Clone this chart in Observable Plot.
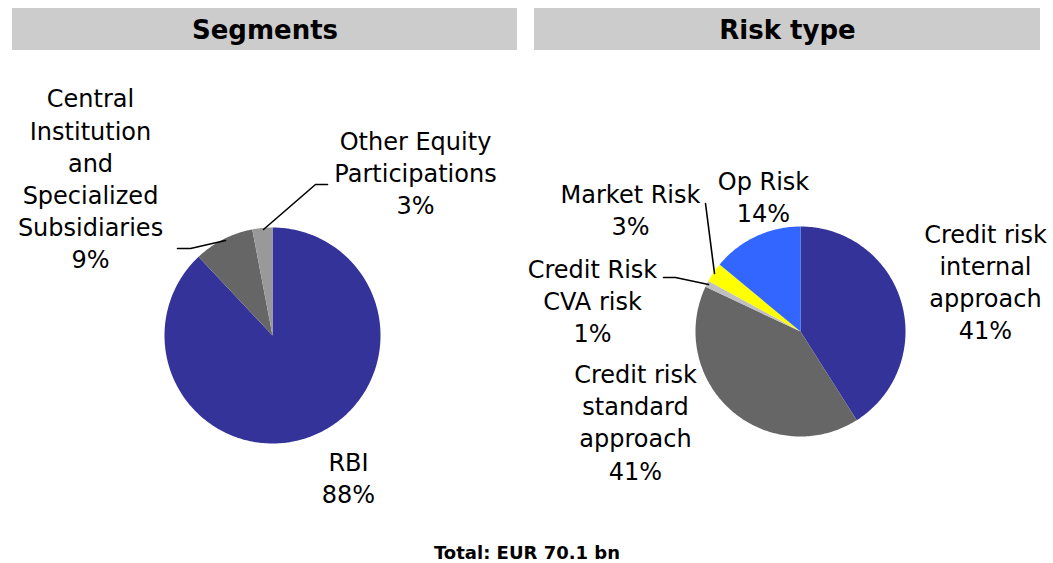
<!DOCTYPE html>
<html>
<head>
<meta charset="utf-8">
<script src="https://cdn.jsdelivr.net/npm/d3@7"></script>
<script src="https://cdn.jsdelivr.net/npm/@observablehq/plot@0.6"></script>
<style>
  html, body { margin: 0; padding: 0; background: #fff; }
  #chart svg { display: block; }
</style>
</head>
<body>
<div id="chart"></div>
<script>
// ---------- data ----------
const panelTitles = ["Segments", "Risk type"];

const segmentNames  = ["RBI", "Central Institution and Specialized Subsidiaries", "Other Equity Participations"];
const segmentValues = [88, 9, 3];
const segmentLabels = ["RBI\n88%", "Central\nInstitution\nand\nSpecialized\nSubsidiaries\n9%", "Other Equity\nParticipations\n3%"];

const riskNames  = ["Credit risk internal approach", "Credit risk standard approach", "Credit Risk CVA risk", "Market Risk", "Op Risk"];
const riskValues = [41, 41, 1, 3, 14];
const riskLabels = ["Credit risk\ninternal\napproach\n41%", "Credit risk\nstandard\napproach\n41%", "Credit Risk\nCVA risk\n1%", "Market Risk\n3%", "Op Risk\n14%"];

const totalText = "Total: EUR 70.1 bn";

// ---------- styles / layout ----------
const segmentColors = ["#333399", "#666666", "#999999"];
const riskColors = ["#333399", "#666666", "#c0c0c0", "#ffff00", "#3366ff"];

const W = 1053, H = 563;
const pies = [
  {cx: 272, cy: 335, r: 108, names: segmentNames, values: segmentValues, colors: segmentColors,
   labelPos: [[348, 476.5], [90, 177], [415, 171.5]],
   leaders: [null, [[177, 248], [190, 248], [225, 240]], [[327, 184], [315, 184], [263, 229]]]},
  {cx: 800, cy: 331, r: 105, names: riskNames, values: riskValues, colors: riskColors,
   labelPos: [[985, 280], [635, 420.5], [592, 299.5], [630, 208.5], [763, 195.5]],
   leaders: [null, null, [[663, 277], [675, 277], [708, 284]], [[705, 203], [714, 273]], null]}
];
const pieLabels = [segmentLabels, riskLabels];

// slices computed via d3.pie from the values (clockwise from 12 o'clock)
const slicePts = [];
const labelRows = [];
const leaderPts = [];
pies.forEach((p, pi) => {
  const arcs = d3.pie().sort(null).value(d => d)(p.values);
  arcs.forEach((a, i) => {
    const id = pi + "-" + i;
    slicePts.push({id, x: p.cx, y: p.cy, color: p.colors[i]});
    const n = Math.max(2, Math.ceil((a.endAngle - a.startAngle) / (Math.PI / 180)));
    for (let k = 0; k <= n; k++) {
      const t = a.startAngle + (a.endAngle - a.startAngle) * k / n;
      slicePts.push({id, x: p.cx + p.r * Math.sin(t), y: p.cy - p.r * Math.cos(t), color: p.colors[i]});
    }
    slicePts.push({id, x: p.cx, y: p.cy, color: p.colors[i]});
    labelRows.push({text: pieLabels[pi][i], x: p.labelPos[i][0], y: p.labelPos[i][1]});
    if (p.leaders[i]) p.leaders[i].forEach(([x, y]) => leaderPts.push({id, x, y}));
  });
});

const headerBoxes = [
  {title: panelTitles[0], x1: 12, x2: 517, y1: 8, y2: 50},
  {title: panelTitles[1], x1: 534, x2: 1040, y1: 8, y2: 50}
];

const chart = Plot.plot({
  width: W, height: H,
  margin: 0,
  x: {domain: [0, W], range: [0, W], axis: null},
  y: {domain: [0, H], range: [0, H], axis: null},
  color: {type: "identity"},
  style: {fontFamily: "'Century Gothic', 'DejaVu Sans', sans-serif", background: "#fff"},
  marks: [
    Plot.rect(headerBoxes, {x1: "x1", x2: "x2", y1: "y1", y2: "y2", fill: "#cccccc"}),
    Plot.text(headerBoxes, {x: d => (d.x1 + d.x2) / 2, y: d => (d.y1 + d.y2) / 2 + 1, text: "title",
      fontSize: 26, fontWeight: "bold", fill: "#000"}),
    Plot.line(slicePts, {x: "x", y: "y", z: "id", fill: "color", stroke: "none", curve: "linear"}),
    Plot.line(leaderPts, {x: "x", y: "y", z: "id", stroke: "#000", strokeWidth: 1.6}),
    Plot.text(labelRows, {x: "x", y: "y", text: "text", fontSize: 24, lineHeight: 1.34,
      lineAnchor: "middle", textAnchor: "middle", fill: "#000"}),
    Plot.text([totalText], {x: W / 2, y: 553, text: d => d, fontSize: 18, fontWeight: "bold", fill: "#000"})
  ]
});
document.getElementById("chart").appendChild(chart);
</script>
</body>
</html>
